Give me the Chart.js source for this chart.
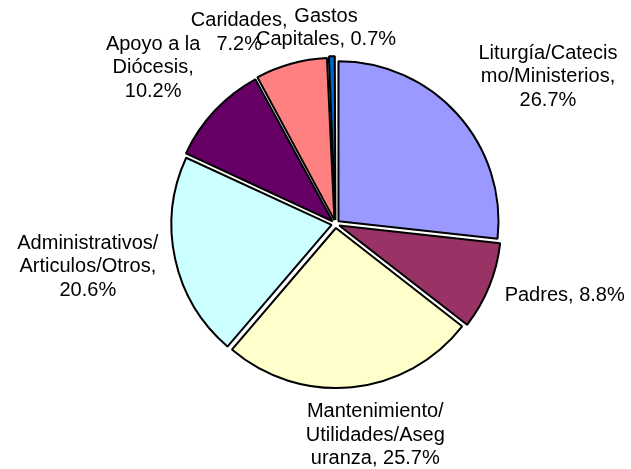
<!DOCTYPE html>
<html>
<head>
<meta charset="utf-8">
<script src="https://cdn.jsdelivr.net/npm/chart.js@4/dist/chart.umd.min.js"></script>
<style>
    html, body { margin: 0; padding: 0; background: #fff; }
    #wrap { width: 631px; height: 469px; position: relative; }
</style>
</head>
<body>
<div id="wrap"><canvas id="gastosChart"></canvas></div>
<script>
// categorias (lineas tal como aparecen en la etiqueta)
const categorias = [
    ['Liturgía/Catecis', 'mo/Ministerios,'],
    ['Padres,'],
    ['Mantenimiento/', 'Utilidades/Aseg', 'uranza,'],
    ['Administrativos/', 'Articulos/Otros,'],
    ['Apoyo a la', 'Diócesis,'],
    ['Caridades,'],
    ['Gastos', 'Capitales,']
];
const porcentajes = [26.7, 8.8, 25.7, 20.6, 10.2, 7.2, 0.7];
const colores = ['#9999FF', '#993366', '#FFFFCC', '#CCFFFF', '#660066', '#FF8080', '#0066CC'];

// colocacion de etiquetas: distancia (x radio) y giro (grados) respecto al centro del sector
const etiquetaDist = [1.615, 1.50, 1.343, 1.571, 1.50, 1.34, 1.227];
const etiquetaGiro = [7.2, -4.8, -4.9, 2.5, -2.6, -11.2, -1.5];
// el porcentaje va en la misma linea que el ultimo texto?
const etiquetaJunta = [false, true, true, false, false, false, true];

const FUENTE = '20px Arial, "Liberation Sans", sans-serif';
const ALTO_LINEA = 23.5;

function lineasEtiqueta(i) {
    const pct = porcentajes[i].toFixed(1) + '%';
    const lineas = categorias[i].slice();
    if (etiquetaJunta[i]) {
        lineas[lineas.length - 1] += ' ' + pct;
    } else {
        lineas.push(pct);
    }
    return lineas;
}

const etiquetasPlugin = {
    id: 'etiquetasPie',
    afterDatasetsDraw(chart) {
        const ctx = chart.ctx;
        const meta = chart.getDatasetMeta(0);
        ctx.save();
        ctx.font = FUENTE;
        ctx.fillStyle = '#000';
        ctx.textAlign = 'center';
        ctx.textBaseline = 'middle';
        meta.data.forEach((arc, i) => {
            const mid = (arc.startAngle + arc.endAngle) / 2 + etiquetaGiro[i] * Math.PI / 180;
            const r = arc.outerRadius * etiquetaDist[i];
            const cx = arc.x + Math.cos(mid) * r;
            const cy = arc.y + Math.sin(mid) * r;
            const lineas = lineasEtiqueta(i);
            const y0 = cy - (lineas.length - 1) * ALTO_LINEA / 2;
            lineas.forEach((t, k) => ctx.fillText(t, cx, y0 + k * ALTO_LINEA));
        });
        ctx.restore();
    }
};

const ctx = document.getElementById('gastosChart');
new Chart(ctx, {
    type: 'pie',
    data: {
        labels: categorias.map(c => c.join(' ')),
        datasets: [{
            data: porcentajes,
            backgroundColor: colores,
            borderColor: '#000',
            borderWidth: 2,
            offset: 16
        }]
    },
    options: {
        responsive: true,
        maintainAspectRatio: false,
        animation: false,
        radius: 160,
        layout: {
            padding: { left: 40, right: 0, top: 0, bottom: 21 }
        },
        plugins: {
            legend: { display: false },
            tooltip: { enabled: false },
            title: { display: false }
        }
    },
    plugins: [etiquetasPlugin]
});
</script>
</body>
</html>
